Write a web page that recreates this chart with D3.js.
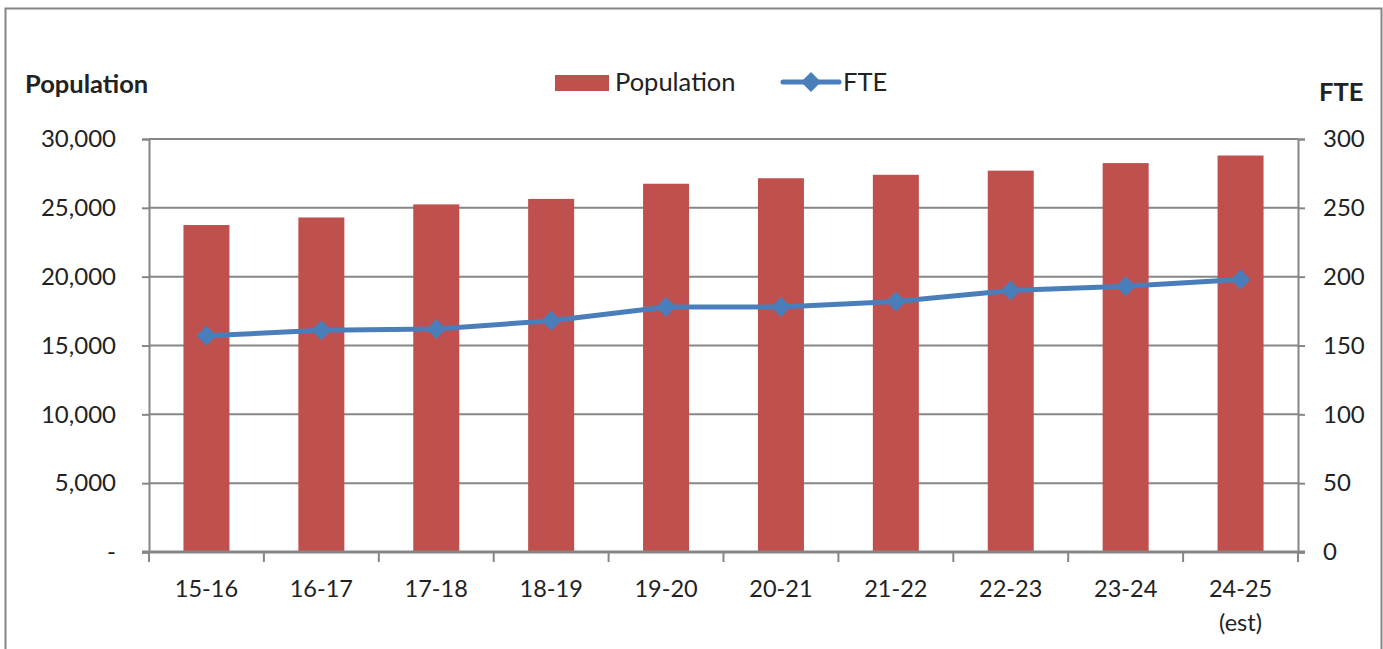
<!DOCTYPE html>
<html>
<head>
<meta charset="utf-8">
<script src="https://cdn.jsdelivr.net/npm/d3@7"></script>
<style>
  body { margin: 0; background: #fff; }
  text { font-family: Lato, "Open Sans", sans-serif; fill: #222; }
</style>
</head>
<body>
<svg id="chart" width="1383" height="649"></svg>
<script>
// data
const years = ["15-16", "16-17", "17-18", "18-19", "19-20", "20-21", "21-22", "22-23", "23-24", "24-25\n(est)"];
const population = [23750, 24300, 25250, 25650, 26750, 27150, 27400, 27700, 28250, 28800];
const fte = [157, 161, 162, 168, 178, 178, 182, 190, 193, 198];
const popTicks = [0, 5000, 10000, 15000, 20000, 25000, 30000];
const fteTicks = [0, 50, 100, 150, 200, 250, 300];

const svg = d3.select("#chart");
const grey = "#868686";
const plotL = 149, plotR = 1298, plotT = 139, plotB = 552;

// outer frame
svg.append("rect")
  .attr("x", 5.5).attr("y", 8.5)
  .attr("width", 1376).attr("height", 660)
  .attr("fill", "none").attr("stroke", grey).attr("stroke-width", 2);

const x = d3.scaleBand().domain(years).range([plotL, plotR]);
const yPop = d3.scaleLinear().domain([0, 30000]).range([plotB, plotT]);
const yFte = d3.scaleLinear().domain([0, 300]).range([plotB, plotT]);

// gridlines
svg.append("g").selectAll("line").data(popTicks.slice(1)).enter().append("line")
  .attr("x1", plotL).attr("x2", plotR)
  .attr("y1", d => yPop(d)).attr("y2", d => yPop(d))
  .attr("stroke", grey).attr("stroke-width", 2);

// bars
svg.append("g").selectAll("rect").data(population).enter().append("rect")
  .attr("x", (d, i) => x(years[i]) + x.bandwidth() / 2 - 23)
  .attr("width", 46)
  .attr("y", d => yPop(d))
  .attr("height", d => plotB - yPop(d))
  .attr("fill", "#c0504d");

// axes
const fmt = d => d === 0 ? "-" : d3.format(",")(d);
const axL = svg.append("g").attr("transform", `translate(${plotL},0)`)
  .call(d3.axisLeft(yPop).tickValues(popTicks).tickFormat(fmt).tickSizeOuter(0).tickSize(7).tickPadding(26));
const axR = svg.append("g").attr("transform", `translate(${plotR},0)`)
  .call(d3.axisRight(yFte).tickValues(fteTicks).tickSizeOuter(0).tickSize(7).tickPadding(18));
[axL, axR].forEach(a => {
  a.select(".domain").attr("stroke", grey).attr("stroke-width", 2);
  a.selectAll(".tick line").attr("stroke", grey).attr("stroke-width", 2);
  a.selectAll(".tick text").attr("font-size", 24).attr("font-family", "Lato, sans-serif").attr("fill", "#222");
});

// x axis
svg.append("line")
  .attr("x1", plotL - 7).attr("x2", plotR + 7)
  .attr("y1", plotB).attr("y2", plotB)
  .attr("stroke", grey).attr("stroke-width", 3);
const bounds = years.map(d => x(d)).concat([plotR]);
svg.append("g").selectAll("line").data(bounds).enter().append("line")
  .attr("x1", d => d).attr("x2", d => d)
  .attr("y1", plotB).attr("y2", plotB + 10)
  .attr("stroke", grey).attr("stroke-width", 2);

const xl = svg.append("g").selectAll("text").data(years).enter().append("text")
  .attr("x", d => x(d) + x.bandwidth() / 2)
  .attr("y", 597)
  .attr("text-anchor", "middle")
  .attr("font-size", 23.5);
xl.each(function (d) {
  d.split("\n").forEach((s, i) => {
    d3.select(this).append("tspan")
      .attr("x", x(d) + x.bandwidth() / 2)
      .attr("dy", i === 0 ? 0 : 34)
      .text(s);
  });
});

// FTE line
const line = d3.line()
  .x((d, i) => x(years[i]) + x.bandwidth() / 2)
  .y(d => yFte(d));
svg.append("path").datum(fte)
  .attr("d", line)
  .attr("fill", "none").attr("stroke", "#4a7ebb").attr("stroke-width", 5)
  .attr("stroke-linejoin", "round");

const diamond = d3.symbol().type(d3.symbolSquare).size(200);
svg.append("g").selectAll("path").data(fte).enter().append("path")
  .attr("d", diamond)
  .attr("transform", (d, i) => `translate(${x(years[i]) + x.bandwidth() / 2},${yFte(d)}) rotate(45)`)
  .attr("fill", "#4a7ebb");

// axis titles
svg.append("text").attr("x", 25).attr("y", 93)
  .attr("font-size", 25.5).attr("font-weight", "bold").text("Population");
svg.append("text").attr("x", 1319).attr("y", 101)
  .attr("font-size", 25.5).attr("font-weight", "bold").text("FTE");

// legend
svg.append("rect").attr("x", 555).attr("y", 75).attr("width", 54).attr("height", 16).attr("fill", "#c0504d");
svg.append("text").attr("x", 615).attr("y", 91).attr("font-size", 25.5).text("Population");
svg.append("line").attr("x1", 783).attr("x2", 839).attr("y1", 82).attr("y2", 82)
  .attr("stroke", "#4a7ebb").attr("stroke-width", 5).attr("stroke-linecap", "round");
svg.append("path").attr("d", diamond).attr("transform", "translate(811,82) rotate(45)").attr("fill", "#4a7ebb");
svg.append("text").attr("x", 843).attr("y", 91).attr("font-size", 25.5).text("FTE");
</script>
</body>
</html>
